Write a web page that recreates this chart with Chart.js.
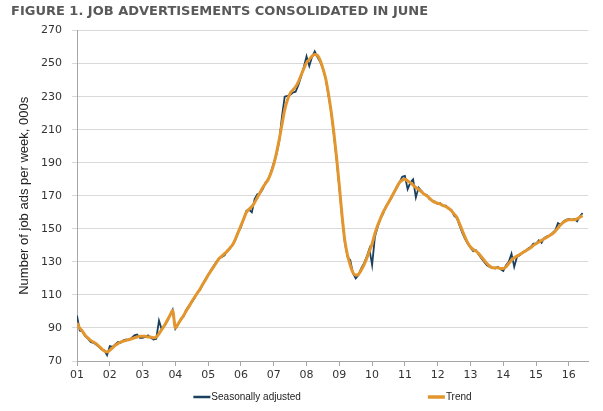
<!DOCTYPE html>
<html>
<head>
<meta charset="utf-8">
<script src="https://cdn.jsdelivr.net/npm/chart.js@4.4.1/dist/chart.umd.min.js"></script>
<style>
    html, body { margin: 0; padding: 0; background: #fff; }
    #wrap { width: 603px; height: 411px; }
</style>
</head>
<body>
<div id="wrap"><canvas id="myChart" width="603" height="411"></canvas></div>
<script>
// monthly, Jan 2001 - Jun 2016, thousands of job ads per week
const yearLabels = ["01", "02", "03", "04", "05", "06", "07", "08",
    "09", "10", "11", "12", "13", "14", "15", "16"];
const yearTicks = [0, 12, 24, 36, 48, 60, 72, 84, 96, 108, 120, 132, 144, 156, 168, 180];

const seasonallyAdjusted = [
    97.5, 88.5, 88, 85, 83.5, 81.5, 81, 80, 78.5, 77, 76.5, 73.5,
    79, 78.5, 80, 81.5, 81, 82.5, 83, 82.5, 84, 85.5, 86, 84,
    84, 84.5, 85.5, 84, 83, 83.5, 94.5, 89, 91.5, 94, 97.5, 101,
    89.5, 92, 95.5, 97, 101, 103.5, 105.5, 108, 111.5, 113, 116, 119.5,
    122, 125, 127.5, 130, 132, 133, 134, 137, 138, 140.5, 143.5, 148,
    151, 156, 161, 161.5, 160, 168, 171, 171.5, 174, 178, 180, 184.5,
    190, 195, 203, 218, 230, 230.5, 231, 232.5, 233, 237, 242, 248,
    254.5, 248.5, 254, 257.5, 254, 251, 247, 241, 231, 221, 207, 192,
    175, 157, 142, 133, 131, 123, 120, 122, 126, 129, 133, 138,
    128, 145, 151, 156, 159, 163.5, 166, 168.5, 172, 175.5, 178, 181.5,
    182, 174, 178, 180, 169, 175, 173, 171, 170.5, 168, 167, 166.5,
    165, 165.5, 164, 164, 162, 161.5, 158, 156.5, 152, 147.5, 144, 141,
    138.5, 136.5, 137, 134.5, 132, 130, 128, 127, 126.5, 126, 127, 125.5,
    124.5, 128, 130, 135, 127, 133, 134, 135.5, 136.5, 138, 139, 141,
    141, 143, 141.5, 144.5, 145.5, 146, 147.5, 149, 153.5, 152.5, 154.5, 155.5,
    156, 155.5, 156, 154.5, 157.5, 159.5
];

const trend = [
    93, 90, 88, 85.5, 84, 82.5, 81.5, 80.5, 79, 77.5, 76, 75.5,
    76.5, 78, 79.5, 80.5, 81.5, 82, 82.5, 83, 83.5, 84, 84.5, 85,
    85, 85, 84.5, 84.5, 84, 84.5, 86.5, 89, 91.5, 94.5, 97.5, 100.5,
    90, 92.5, 95, 97.5, 100.5, 103, 106, 108.5, 111, 113.5, 116.5, 119,
    122, 124.5, 127, 129.5, 132, 133.5, 135, 136.5, 138.5, 140.5, 144, 148,
    152, 156, 160, 162, 163.5, 166, 169, 172, 175, 177.5, 180, 184,
    189, 196, 204, 213, 222, 228, 232, 234, 236, 239, 243, 247,
    250.5, 252.5, 254.5, 255.5, 255, 252, 247, 241, 232, 221, 208, 193,
    176, 158, 143, 134, 128, 123.5, 122, 122.5, 125, 128, 132, 136.5,
    141, 147, 152, 156, 160, 163, 166, 169, 172, 175, 178, 179.5,
    180, 179, 178, 176.5, 175, 174, 172.5, 171, 170, 168.5, 167, 166,
    165.5, 165, 164, 163.5, 162.5, 161, 159, 157, 153, 149, 145, 141.5,
    139, 137.5, 136.5, 135, 133, 131, 129, 127.5, 126.5, 126.5, 126.5, 126,
    126, 127, 129, 131, 132.5, 133.5, 134.5, 135.5, 136.5, 137.5, 138.5, 140,
    141, 142, 143, 144, 145, 146, 147, 148.5, 150.5, 152.5, 154, 155,
    155.5, 155.5, 155.5, 156, 157, 158
];

const toPoints = (arr) => arr.map((v, i) => ({ x: i, y: v }));

// legend drawn under the plot, centred on the chart area
const bottomLegend = {
    id: "bottomLegend",
    afterDraw(chart) {
        const ctx = chart.ctx;
        const area = chart.chartArea;
        const sets = chart.data.datasets;
        const sample = 17;
        const gap = 127;
        ctx.save();
        ctx.font = "10px 'Liberation Sans', Arial, sans-serif";
        ctx.textBaseline = "middle";
        const widths = sets.map((ds) => sample + 1 + ctx.measureText(ds.label).width);
        const total = widths.reduce((a, b) => a + b, 0) + gap * (sets.length - 1);
        let x = (area.left + area.right) / 2 - total / 2;
        const y = 397;
        sets.forEach((ds, i) => {
            ctx.strokeStyle = ds.borderColor;
            ctx.lineWidth = ds.legendWidth;
            ctx.beginPath();
            ctx.moveTo(x, y);
            ctx.lineTo(x + sample, y);
            ctx.stroke();
            ctx.fillStyle = "#222";
            ctx.fillText(ds.label, x + sample + 1, y + 0.5);
            x += widths[i] + gap;
        });
        ctx.restore();
    },
};

const ctx = document.getElementById("myChart");
new Chart(ctx, {
    type: "line",
    data: {
        datasets: [
            {
                label: "Seasonally adjusted",
                data: toPoints(seasonallyAdjusted),
                borderColor: "#1b405f",
                borderWidth: 1.8,
                legendWidth: 2.5,
                pointRadius: 0,
                fill: false,
                lineTension: 0,
                order: 2,
            },
            {
                label: "Trend",
                data: toPoints(trend),
                borderColor: "#e3962e",
                borderWidth: 3,
                legendWidth: 3.5,
                pointRadius: 0,
                fill: false,
                cubicInterpolationMode: "monotone",
                order: 1,
            },
        ],
    },
    options: {
        responsive: false,
        animation: false,
        layout: { padding: { left: 11, right: 15, bottom: 28 } },
        plugins: {
            legend: { display: false },
            tooltip: { enabled: false },
            title: {
                display: true,
                text: "FIGURE 1. JOB ADVERTISEMENTS CONSOLIDATED IN JUNE",
                align: "start",
                color: "#595959",
                font: { family: "'DejaVu Sans', Verdana, sans-serif", size: 13, weight: "bold" },
                padding: { top: 4, bottom: 11 },
            },
        },
        scales: {
            x: {
                type: "linear",
                min: 0,
                max: 187,
                afterBuildTicks: (scale) => {
                    scale.ticks = yearTicks.map((v) => ({ value: v }));
                },
                afterFit: (scale) => {
                    scale.height = 22;
                },
                ticks: {
                    autoSkip: false,
                    maxRotation: 0,
                    padding: 3,
                    color: "#333",
                    font: { family: "'DejaVu Sans', Verdana, sans-serif", size: 11 },
                    callback: (value) => yearLabels[yearTicks.indexOf(value)],
                },
                grid: {
                    drawOnChartArea: false,
                    drawTicks: true,
                    tickLength: 5,
                    color: "#a6a6a6",
                },
                border: { color: "#a6a6a6" },
            },
            y: {
                min: 70,
                max: 270,
                afterFit: (scale) => {
                    scale.width = 66;
                },
                ticks: {
                    stepSize: 20,
                    padding: 10,
                    color: "#333",
                    font: { family: "'DejaVu Sans', Verdana, sans-serif", size: 11 },
                },
                grid: {
                    color: "#d9d9d9",
                    tickLength: 5,
                },
                border: { color: "#a6a6a6" },
                title: {
                    display: true,
                    text: "Number of job ads per week, 000s",
                    color: "#222",
                    font: { family: "'Liberation Sans', Arial, sans-serif", size: 13 },
                    padding: { top: 6, bottom: 0 },
                },
            },
        },
    },
    plugins: [bottomLegend],
});
</script>
</body>
</html>
